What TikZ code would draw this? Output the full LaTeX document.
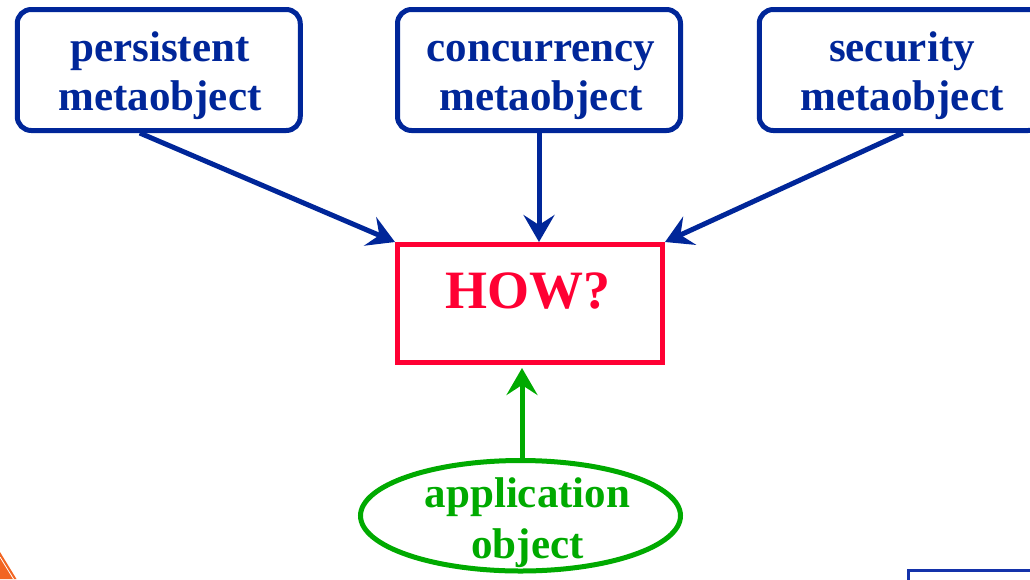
\documentclass[tikz,border=0pt]{standalone}
\usepackage{fontspec}
\setmainfont{Liberation Serif}
\usetikzlibrary{arrows.meta,shapes.geometric}
\definecolor{metablue}{RGB}{0,38,153}
\definecolor{howred}{RGB}{255,0,51}
\definecolor{appgreen}{RGB}{0,170,0}
\definecolor{cornerorange}{RGB}{242,101,34}
\definecolor{frameblue}{RGB}{20,50,170}
\begin{document}
\begin{tikzpicture}[x=1pt,y=-1pt,
  metabox/.style={draw=metablue, line width=5pt, rounded corners=14pt,
    minimum width=283pt, minimum height=121pt, inner sep=0pt},
  metatext/.style={text=metablue, font=\fontsize{43}{49}\selectfont\bfseries,
    align=center, anchor=base, inner sep=0pt},
  howbox/.style={draw=howred, line width=5pt, minimum width=265pt,
    minimum height=118pt, inner sep=0pt},
  howtext/.style={text=howred, font=\fontsize{54}{60}\selectfont\bfseries,
    anchor=base, inner sep=0pt},
  appshape/.style={draw=appgreen, line width=5pt, ellipse,
    minimum width=320pt, minimum height=110.5pt, inner sep=0pt},
  apptext/.style={text=appgreen, font=\fontsize{43}{51}\selectfont\bfseries,
    align=center, anchor=base, inner sep=0pt},
  bluearrow/.style={draw=metablue, line width=5pt,
    -{Stealth[length=27pt,width=31pt,inset=10pt]}},
  greenarrow/.style={draw=appgreen, line width=5pt,
    -{Stealth[length=27pt,width=31pt,inset=10pt]}}
]
\useasboundingbox (0,0) rectangle (1030,579);
\clip (0,0) rectangle (1030,579);

% decorative slide elements at the lower corners
\fill[cornerorange] (0,552) -- (16.5,579) -- (0,579) -- cycle;
\draw[white, line width=0.8pt] (0,557) -- (13.5,579);
\draw[frameblue, line width=2.5pt] (908.5,590) -- (908.5,570.5) -- (1040,570.5);

% metaobjects (text nodes are placed by the baseline of their last line)
\node[metabox] (persistent) at (158.75,70) {};
\node[metatext] (persistentlabel) at (160,110) {persistent\\metaobject};

\node[metabox] (concurrency) at (539,70) {};
\node[metatext] (concurrencylabel) at (541,110) {concurrency\\metaobject};

\node[metabox] (security) at (900.75,70) {};
\node[metatext] (securitylabel) at (902,110) {security\\metaobject};

% the open question
\node[howbox] (how) at (530,303.5) {};
\node[howtext] (howlabel) at (528,308) {HOW?};

% base-level object
\node[appshape] (app) at (520.5,515.75) {};
\node[apptext] (applabel) at (527.5,558) {application\\object};

% connectors
\draw[bluearrow] ([xshift=-19pt]persistent.south) -- (how.north west);
\draw[bluearrow] (concurrency.south) -- (concurrency.south |- how.north);
\draw[bluearrow] ([xshift=2pt]security.south) -- (how.north east);
\draw[greenarrow, shorten >=3pt] ([xshift=1.5pt]app.north) -- ([xshift=1.5pt]app.north |- how.south);
\end{tikzpicture}
\end{document}
